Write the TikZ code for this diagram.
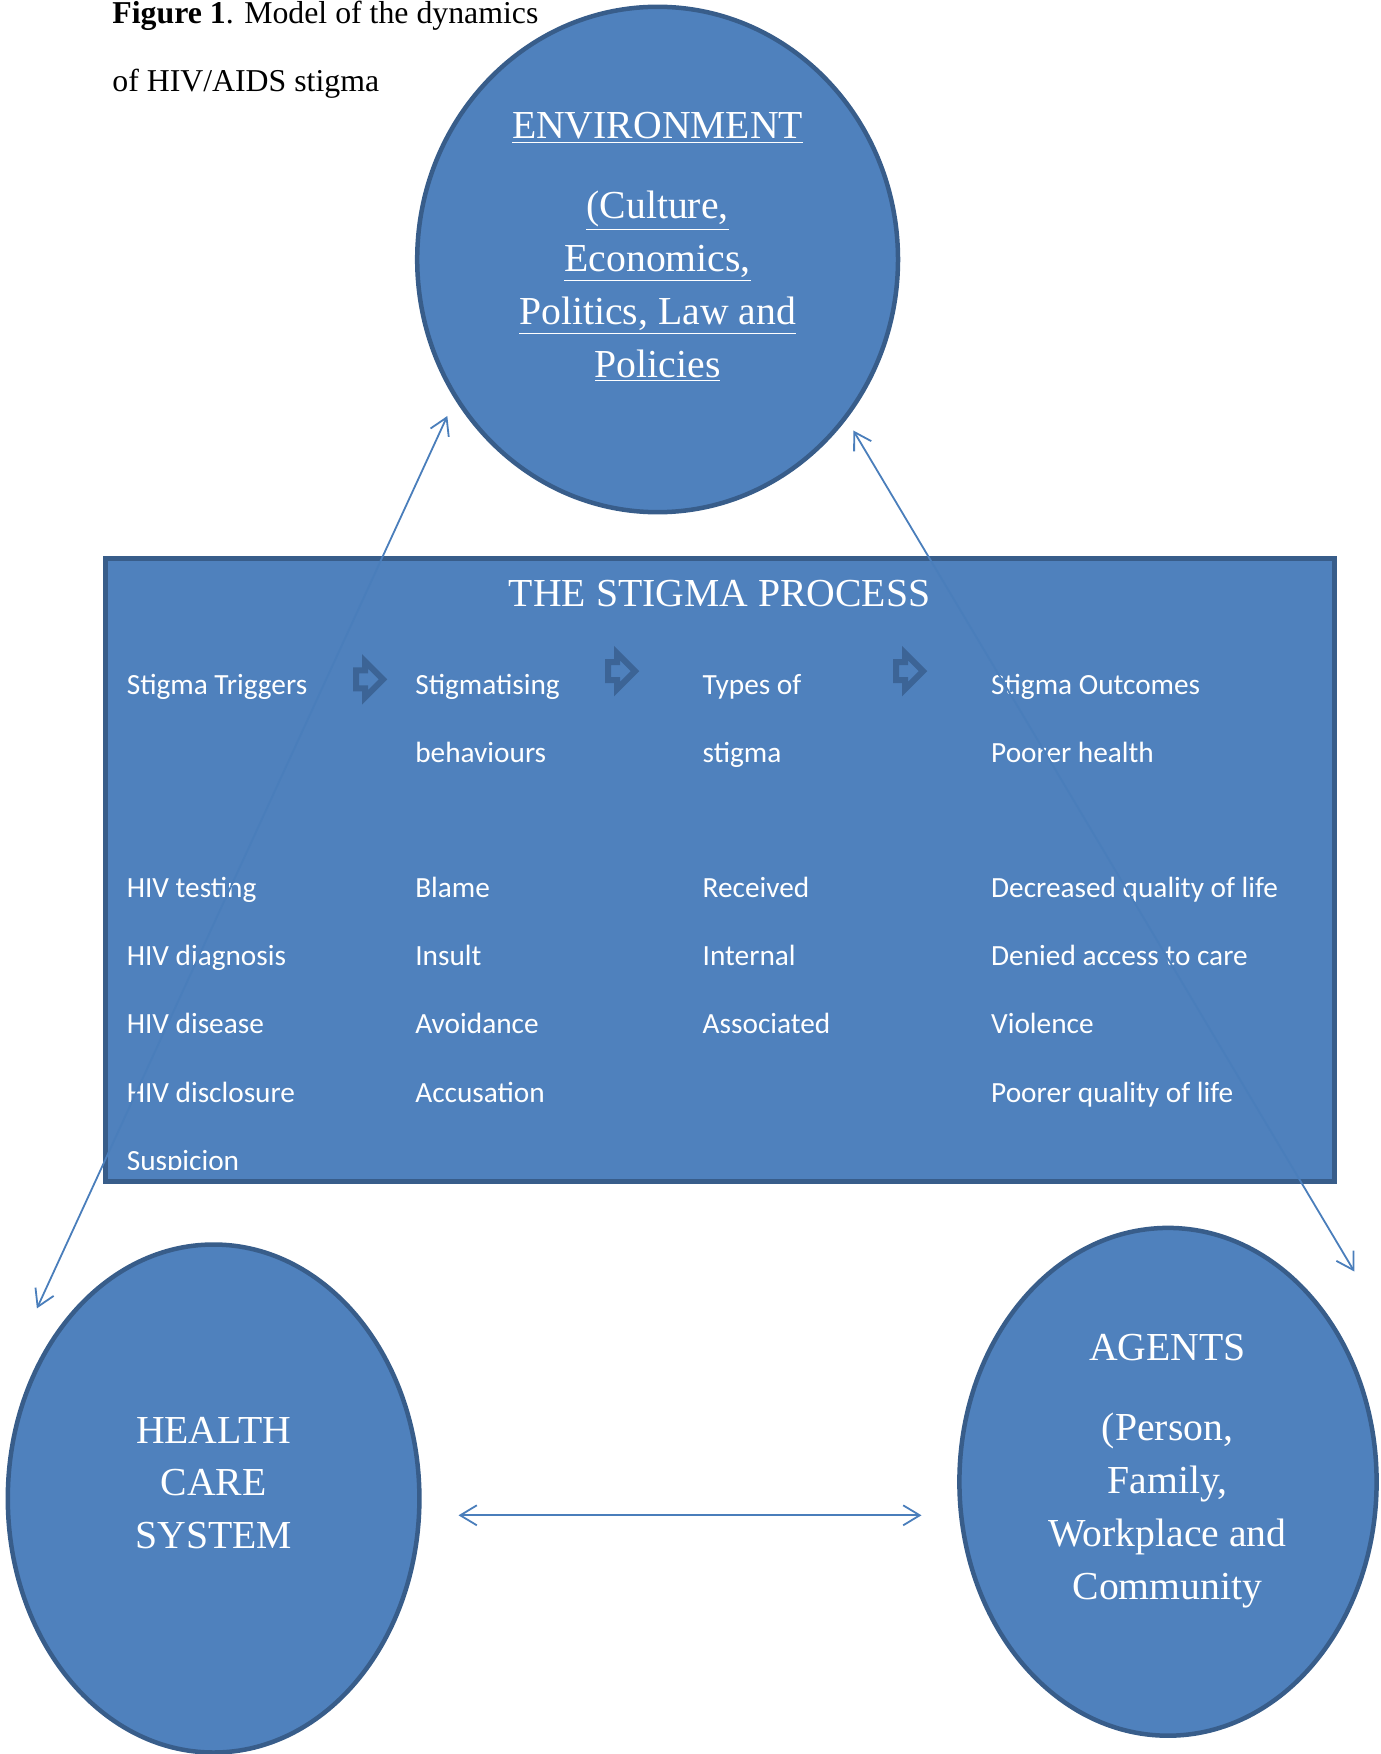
\documentclass[tikz,border=0pt]{standalone}
\usepackage{fontspec}
\setmainfont{Liberation Serif}
\newfontfamily\calibri{Carlito}
\usetikzlibrary{arrows.meta,positioning,calc,shapes.geometric,shapes.arrows}
\definecolor{fillblue}{RGB}{79,129,189}
\definecolor{rimblue}{RGB}{56,93,138}
\definecolor{lineblue}{RGB}{74,126,187}
\definecolor{tipblue}{RGB}{60,100,150}

\begin{document}
\begin{tikzpicture}[x=0.5pt, y=-0.5pt,
  realm/.style={ellipse, draw=rimblue, line width=2.25pt, fill=fillblue, inner sep=0pt},
  bigtxt/.style={text=white, align=center, inner sep=0pt, font=\fontsize{19.85}{26.4}\selectfont},
  item/.style={text=white, anchor=base west, inner sep=0pt, font=\calibri\fontsize{14.65}{17}\selectfont},
  nextstep/.style={single arrow, draw=tipblue, line width=3pt, fill=fillblue, inner sep=3pt, single arrow head extend=4.5pt, minimum height=11pt},
  link/.style={{Straight Barb[length=8.3pt,width=10pt]}-{Straight Barb[length=8.3pt,width=10pt]}, draw=lineblue, line width=0.9pt}]
  \useasboundingbox (0,0) rectangle (1380,1754);
  % caption
  \node[anchor=north west, inner sep=0pt, align=left, font=\fontsize{15.9}{34}\selectfont] (caption) at (112,0.3)
       {\textbf{Figure 1}. Model of the dynamics\\of HIV/AIDS stigma};
  % the three realms
  \node[realm, minimum width=240.4pt, minimum height=252.7pt] (env) at (657.6,259.5) {};
  \node[bigtxt] (envtxt) at (657.6,247) {\underline{ENVIRONMENT}\\[13.5pt]\underline{(Culture,}\\\underline{Economics,}\\\underline{Politics, Law and}\\\underline{Policies}};
  \node[realm, minimum width=205.8pt, minimum height=254pt] (hcs) at (213.6,1498.5) {};
  \node[bigtxt] (hcstxt) at (213.6,1483) {HEALTH\\CARE\\SYSTEM};
  \node[realm, minimum width=208.6pt, minimum height=253.9pt] (agents) at (1168,1481.8) {};
  \node[bigtxt] (agtxt) at (1167.5,1470.8) {AGENTS\\[14pt](Person,\\Family,\\Workplace and\\Community};
  % stigma process box
  \node[draw=rimblue, line width=2.5pt, fill=fillblue, minimum width=614.5pt, minimum height=311.5pt, inner sep=0pt] (process) at (719.5,869.5) {};
  \node[bigtxt] (title) at (719.6,593.5) {THE STIGMA PROCESS};
  \node[nextstep] (s1) at (365,679.3) {};
  \node[nextstep] (s2) at (617,671.2) {};
  \node[nextstep] (s3) at (905,671.2) {};
  \begin{scope}
    \clip ([yshift=7pt]process.south west) rectangle (process.north east);
    % triggers
    \node[item] (trig) at (126.4,694.3) {Stigma Triggers};
    \node[item] (trig1) at (126.4,897.5) {HIV testing};
    \node[item] (trig2) at (126.4,965.7) {HIV diagnosis};
    \node[item] (trig3) at (126.4,1033.9) {HIV disease};
    \node[item] (trig4) at (126.4,1102.1) {HIV disclosure};
    \node[item] (trig5) at (126.4,1170) {Suspicion};
    % behaviours
    \node[item] (beh) at (414.9,694.3) {Stigmatising};
    \node[item] (beh0) at (414.9,762.3) {behaviours};
    \node[item] (beh1) at (414.9,897.5) {Blame};
    \node[item] (beh2) at (414.9,965.7) {Insult};
    \node[item] (beh3) at (414.9,1033.9) {Avoidance};
    \node[item] (beh4) at (414.9,1102.1) {Accusation};
    % types
    \node[item] (typ) at (702.3,694.3) {Types of};
    \node[item] (typ0) at (702.3,762.3) {stigma};
    \node[item] (typ1) at (702.3,897.5) {Received};
    \node[item] (typ2) at (702.3,965.7) {Internal};
    \node[item] (typ3) at (702.3,1033.9) {Associated};
    % outcomes
    \node[item] (out) at (990.8,694.3) {Stigma Outcomes};
    \node[item] (out0) at (990.8,762.3) {Poorer health};
    \node[item] (out1) at (990.8,897.5) {Decreased quality of life};
    \node[item] (out2) at (990.8,965.7) {Denied access to care};
    \node[item] (out3) at (990.8,1033.9) {Violence};
    \node[item] (out4) at (990.8,1102.1) {Poorer quality of life};
  \end{scope}
  % links between the realms
  \coordinate (envL) at (447.3,416);
  \coordinate (hcsT) at (36.9,1308.4);
  \coordinate (envR) at (853.3,430.5);
  \coordinate (agT) at (1354.3,1271.5);
  \coordinate (hcsR) at (458.5,1515.3);
  \coordinate (agL) at (921.5,1515.3);
  \draw[link] (hcsT) -- (envL);
  \draw[link] (envR) -- (agT);
  \draw[link] (hcsR) -- (agL);
\end{tikzpicture}
\end{document}
